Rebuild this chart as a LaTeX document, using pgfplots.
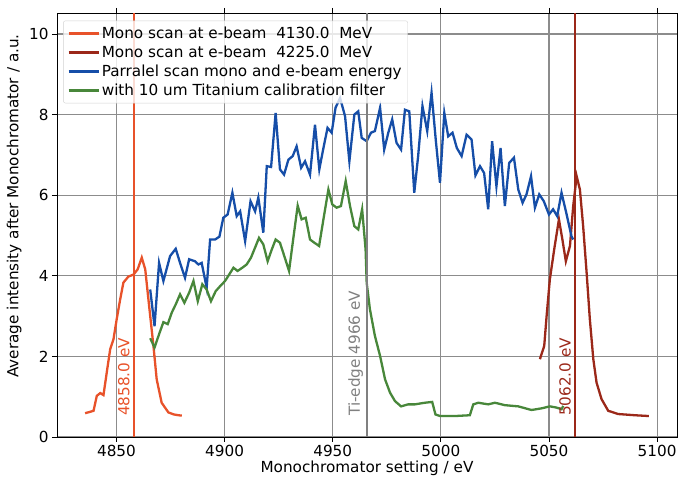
\documentclass[border=0pt]{standalone}
\usepackage{fontspec}
\setmainfont{DejaVu Sans}
\usepackage{pgfplots}
\pgfplotsset{compat=1.18}

\definecolor{monoA}{RGB}{232,82,42}
\definecolor{monoB}{RGB}{155,40,25}
\definecolor{par}{RGB}{22,78,168}
\definecolor{ti}{RGB}{72,135,58}
\definecolor{gridc}{RGB}{140,140,140}
\newcommand{\chartfont}{\fontsize{15.3}{18}\selectfont}

\begin{document}
\begin{tikzpicture}
\begin{axis}[
  scale only axis, width=620bp, height=424bp,
  xmin=4822.5, xmax=5109.2, ymin=0, ymax=10.52,
  xtick={4850,4900,...,5100}, ytick={0,2,...,10},
  tick align=outside, major tick length=5bp,
  tick style={black, line width=0.8bp},
  /pgf/number format/assume math mode=true,
  /pgf/number format/1000 sep={},
  tick label style={font=\chartfont},
  label style={font=\chartfont},
  xlabel={Monochromator setting / eV},
  ylabel={Average intensity after Monochromator / a.u.},
  xlabel style={at={(axis description cs:0.5,-0.083)}, anchor=base},
  ylabel style={at={(axis description cs:-0.069,0.545)}, anchor=center},
  grid=major, grid style={gridc, line width=1.2bp},
  axis line style={black, line width=0.8bp},
  legend style={font=\chartfont, at={(0.01,0.982)}, anchor=north west,
    draw=gray!35, rounded corners=2bp, fill=white, fill opacity=0.8, text opacity=1,
    row sep=2bp, inner sep=4bp},
  legend cell align=left,
  legend image code/.code={\draw[#1, line width=2.4bp] (0bp,0bp) -- (30bp,0bp);},
]
\addplot[monoA, line width=2.3bp] coordinates {
(4835.5,0.59)(4837.5,0.62)(4839.4,0.65)(4840.9,1.02)(4842.5,1.09)(4844,1.04)(4845.5,1.6)
(4847.1,2.18)(4848.6,2.42)(4850.1,2.92)(4851.7,3.41)(4853.2,3.83)(4855.5,3.98)(4857.9,4.03)
(4859.8,4.16)(4861.7,4.45)(4863.3,4.16)(4865.1,3.25)(4867.1,2.26)(4868.6,1.43)(4870.9,0.85)
(4874,0.61)(4876.5,0.56)(4878.7,0.54)(4880.2,0.53)};
\addlegendentry{Mono scan at e-beam~ 4130.0~ MeV}
\addplot[monoB, line width=2.3bp] coordinates {
(5045.8,1.93)(5047.8,2.26)(5048.9,3.00)(5050.4,3.91)(5052.4,4.65)(5054.6,5.40)(5056.2,4.90)
(5057.8,4.36)(5059.7,4.74)(5061.2,5.73)(5062.8,6.47)(5064.3,6.14)(5065.8,5.23)(5067.4,4.08)
(5068.9,2.92)(5070.5,1.93)(5072,1.35)(5074.3,0.94)(5077.4,0.65)(5082,0.57)(5089.7,0.54)(5096.2,0.52)};
\addlegendentry{Mono scan at e-beam~ 4225.0~ MeV}
\addplot[par, line width=2.3bp] coordinates {
(4865.6,3.66)(4867.6,2.75)(4869.7,4.32)(4871.7,3.87)(4874.8,4.49)(4877.4,4.67)(4879.4,4.32)
(4881.7,3.95)(4883.6,4.41)(4886.3,4.36)(4887.9,4.28)(4889.4,4.32)(4891.7,3.70)(4893.3,4.90)
(4895.6,4.90)(4897.6,4.97)(4899.4,5.44)(4901.4,5.52)(4903.6,6.06)(4905.6,5.48)(4907.2,5.60)
(4909.5,4.86)(4912,5.85)(4914.1,5.60)(4915.6,5.94)(4917.9,5.07)(4919.5,6.72)(4921.5,6.70)
(4923.6,8.04)(4925.6,6.64)(4927.5,6.51)(4929.5,6.88)(4931.5,6.97)(4933.3,7.21)(4935.4,6.68)
(4937.2,6.84)(4939.5,6.51)(4941.8,7.75)(4943.8,6.64)(4945.7,7.17)(4947.6,7.67)(4949.5,7.55)
(4951.3,8.17)(4953.4,8.41)(4955.7,7.96)(4957.7,6.84)(4960,8.0)(4961.8,8.08)(4963.4,7.42)
(4965.7,7.34)(4967.7,7.55)(4969.5,7.59)(4971.9,8.17)(4973.8,7.13)(4975.7,7.55)(4977.5,7.88)
(4979.5,7.30)(4981.6,7.13)(4983.4,8.12)(4985.4,8.08)(4987.7,6.06)(4989.5,6.97)(4991.5,8.21)
(4993.7,7.59)(4995.7,8.54)(4997.7,7.34)(4999.6,6.31)(5001.6,8.04)(5003.4,7.46)(5005.4,7.55)
(5007.4,7.17)(5009.6,6.97)(5011.9,7.50)(5014.2,7.38)(5016,6.49)(5018.1,6.72)(5020,6.55)
(5021.9,5.65)(5023.7,7.34)(5025.7,6.22)(5027.6,7.17)(5029.6,5.73)(5031.6,6.80)(5033.8,6.93)
(5035.8,6.14)(5037.8,5.81)(5039.6,6.02)(5041.7,6.47)(5043.5,5.69)(5045.5,6.02)(5047.6,5.85)
(5050,5.52)(5051.9,5.65)(5053.8,5.48)(5055.8,6.06)(5058,5.56)(5060.4,4.98)(5061.2,4.90)};
\addlegendentry{Parralel scan mono and e-beam energy}
\addplot[ti, line width=2.3bp] coordinates {
(4865.6,2.45)(4867.6,2.22)(4869.7,2.55)(4871.7,2.85)(4873.7,2.80)(4875.6,3.09)(4877.4,3.29)
(4879.4,3.54)(4881.4,3.33)(4883.6,3.58)(4885.6,3.87)(4887.6,3.37)(4889.7,3.79)(4891.7,3.66)
(4893.7,3.37)(4895.9,3.62)(4897.9,3.74)(4900.2,3.87)(4902.1,4.03)(4904.1,4.20)(4906,4.12)
(4908.2,4.20)(4910.2,4.28)(4912.2,4.45)(4914.1,4.70)(4915.9,4.94)(4917.9,4.78)(4919.9,4.36)
(4921.8,4.65)(4923.6,4.90)(4925.6,4.82)(4927.6,4.49)(4929.8,4.12)(4931.8,4.94)(4933.8,5.74)
(4935.6,5.40)(4937.5,5.44)(4939.5,4.90)(4941.5,4.82)(4943.7,4.74)(4945.7,5.40)(4948,6.14)
(4949.8,5.77)(4951.8,5.69)(4953.8,5.73)(4956,6.35)(4958,5.73)(4960,5.23)(4961.8,5.15)
(4963.6,5.65)(4965.2,4.65)(4965.7,3.83)(4967.2,3.17)(4969.5,2.51)(4971.9,2.01)(4974.2,1.43)
(4976.5,1.10)(4978.8,0.89)(4981.6,0.76)(4984.9,0.81)(4988,0.81)(4992.6,0.85)(4996,0.87)
(4997.5,0.56)(4999.6,0.52)(5006.5,0.52)(5013.4,0.54)(5015,0.81)(5017.3,0.85)(5021.9,0.81)
(5025,0.85)(5029.6,0.79)(5035.8,0.76)(5041.9,0.67)(5046.5,0.71)(5050.4,0.76)(5053.5,0.73)
(5055.8,0.69)(5056.6,0.77)};
\addlegendentry{with 10 um Titanium calibration filter}
% vertical reference lines
\addplot[monoA, line width=1.8bp, forget plot] coordinates {(4858,0)(4858,10.52)};
\addplot[gray, line width=1.8bp, forget plot] coordinates {(4966,0)(4966,10.52)};
\addplot[monoB, line width=1.8bp, forget plot] coordinates {(5062,0)(5062,10.52)};
\node[rotate=90, anchor=south west, inner xsep=0pt, inner ysep=4bp, text=monoA,
  font=\chartfont] at (axis cs:4858,0.52) {4858.0 eV};
\node[rotate=90, anchor=south west, inner xsep=0pt, inner ysep=4bp, text=gray,
  font=\chartfont] at (axis cs:4966,0.52) {Ti-edge 4966 eV};
\node[rotate=90, anchor=south west, inner xsep=0pt, inner ysep=4bp, text=monoB,
  font=\chartfont] at (axis cs:5062,0.52) {5062.0 eV};
\end{axis}
\pgfresetboundingbox
\path ([shift={(-57bp,-41bp)}]current axis.south west) rectangle ([shift={(1bp,13bp)}]current axis.north east);
\end{tikzpicture}
\end{document}
